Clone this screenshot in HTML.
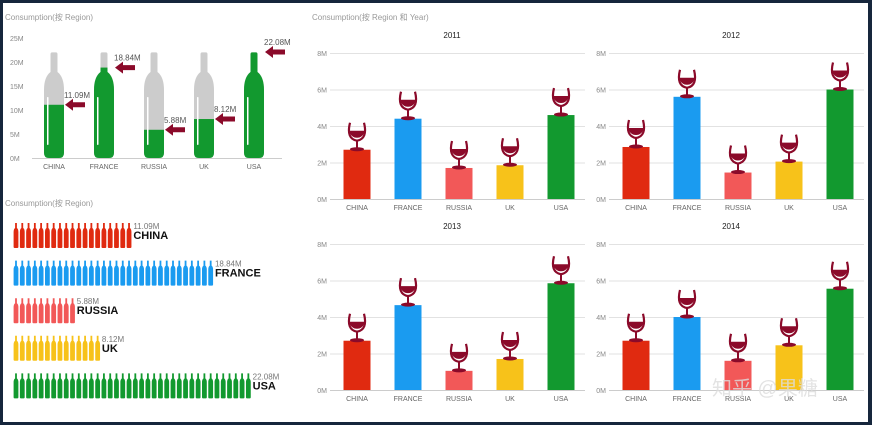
<!DOCTYPE html>
<html><head><meta charset="utf-8"><style>
html,body{margin:0;padding:0;background:#fff}
svg{display:block;font-family:"Liberation Sans","Noto Sans CJK SC",sans-serif}
</style></head><body>
<svg id="c" width="872" height="425" viewBox="0 0 872 425">
<rect x="0" y="0" width="872" height="425" fill="#16263c"/>
<rect x="3" y="3" width="865" height="419" fill="#ffffff"/>
<text x="5" y="20" font-size="8" fill="#999">Consumption(按 Region)</text>
<text x="5" y="206" font-size="8" fill="#999">Consumption(按 Region)</text>
<text x="312" y="20" font-size="8" fill="#999">Consumption(按 Region 和 Year)</text>
<g id="g"></g>
<text x="712" y="395" font-size="20" fill="#ddd" opacity="0.8">知乎 @果糖</text>
</svg>
<script>
const regions=["CHINA","FRANCE","RUSSIA","UK","USA"];
const totals=[11.09,18.84,5.88,8.12,22.08];
const totalLabels=["11.09M","18.84M","5.88M","8.12M","22.08M"];
const colors=["#e02a10","#1a9bf0","#f25858","#f7c21a","#12992f"];
const years=["2011","2012","2013","2014"];
const v2011=[2.7,4.4,1.7,1.85,4.6];
const v2012=[2.85,5.6,1.45,2.05,6.0];
const v2013=[2.7,4.65,1.05,1.7,5.85];
const v2014=[2.7,4.0,1.6,2.45,5.55];
const yearVals=[v2011,v2012,v2013,v2014];
const topTicks=[0,5,10,15,20,25];
const smallTicks=[0,2,4,6,8];
const perBottle=0.58;

const NS="http://www.w3.org/2000/svg";
const g=document.getElementById('g');
function mk(t,a,p){const e=document.createElementNS(NS,t);for(const k in a)e.setAttribute(k,a[k]);(p||g).appendChild(e);return e;}

// top-left bottle chart
const tY=v=>158-v*4.8, tX=i=>54+i*50;
topTicks.forEach(t=>{const e=mk('text',{x:10,y:tY(t)+3,'font-size':7,fill:'#888'});e.textContent=t+'M';

});
mk('line',{x1:32,x2:282,y1:158.5,y2:158.5,stroke:'#ccc'});
const defs=mk('defs',{});
regions.forEach((r,i)=>{
 const cx=tX(i),top=tY(22),sh=90,nk=72,b=158;
 const d=`M${cx-10},${b-5} Q${cx-10},${b} ${cx-5},${b} L${cx+5},${b} Q${cx+10},${b} ${cx+10},${b-5} L${cx+10},${sh} Q${cx+10},${nk+5} ${cx+3.5},${nk} L${cx+3.5},${top+2} Q${cx+3.5},${top} ${cx+2},${top} L${cx-2},${top} Q${cx-3.5},${top} ${cx-3.5},${top+2} L${cx-3.5},${nk} Q${cx-10},${nk+5} ${cx-10},${sh} Z`;
 const cp=mk('clipPath',{id:'cp'+i},defs);mk('path',{d},cp);
 const bg=mk('path',{d,fill:'#cccccc'});
 
 
 const yv=tY(totals[i]);
 const f=mk('rect',{x:cx-11,y:yv,width:22,height:b-yv,fill:'#12992f','clip-path':`url(#cp${i})`});
 
 
 mk('rect',{x:cx-7,y:97,width:1.5,height:48,fill:'#fff',rx:0.7});
 const ax=cx+11;
 const ar=mk('path',{d:`M${ax},${yv} L${ax+8},${yv-6} L${ax+8},${yv-2.5} L${ax+20},${yv-2.5} L${ax+20},${yv+2.5} L${ax+8},${yv+2.5} L${ax+8},${yv+6} Z`,fill:'#8b0a2a'});
 
 
 const lt=mk('text',{x:ax-1,y:yv-7,'font-size':8,fill:'#555'});lt.textContent=totalLabels[i];
 
 
 const xl=mk('text',{x:cx,y:169,'font-size':7,fill:'#666','text-anchor':'middle'});xl.textContent=r;
 
 
});

// bottle rows
regions.forEach((r,i)=>{
 const y0=222+i*37.6,n=Math.round(totals[i]/perBottle);
 for(let k=0;k<n;k++){const x=13+k*6.28+3;
  const bt=mk('path',{d:`M${x-2.4},${y0+25} Q${x-2.4},${y0+26} ${x-1.4},${y0+26} L${x+1.4},${y0+26} Q${x+2.4},${y0+26} ${x+2.4},${y0+25} L${x+2.4},${y0+10} Q${x+2.4},${y0+7} ${x+0.9},${y0+6} L${x+0.9},${y0+1} L${x-0.9},${y0+1} L${x-0.9},${y0+6} Q${x-2.4},${y0+7} ${x-2.4},${y0+10} Z`,fill:colors[i]});
  
  }
 const ex=13+n*6.28+1;
 const v=mk('text',{x:ex,y:y0+7,'font-size':8,fill:'#777'});v.textContent=totalLabels[i];
 
 
 const nm=mk('text',{x:ex,y:y0+17,'font-size':11,'font-weight':'bold',fill:'#111'});nm.textContent=r;
 
 
});

// small multiples
const panels=[[330,53,199],[609,53,199],[330,244,390],[609,244,390]];
const glass=(cx,y)=>{
 mk('ellipse',{cx,cy:y-1.5,rx:7,ry:2,fill:'#8b0a2a'});
 mk('rect',{x:cx-1,y:y-10,width:2,height:9,fill:'#8b0a2a'});
 mk('path',{d:`M${cx-7},${y-28} Q${cx-11},${y-12} ${cx},${y-10} Q${cx+11},${y-12} ${cx+7},${y-28}`,fill:'none',stroke:'#8b0a2a','stroke-width':2.2});
 mk('path',{d:`M${cx-8},${y-20} L${cx+8},${y-20} Q${cx+6},${y-13} ${cx},${y-13} Q${cx-6},${y-13} ${cx-8},${y-20} Z`,fill:'#8b0a2a'});
};
years.forEach((yr,p)=>{
 const [x0,yt,yb]=panels[p];const sy=v=>yb-(yb-yt)*v/8, sx=i=>x0+27+i*51;
 const tt=mk('text',{x:x0+122,y:yt-15,'font-size':8,fill:'#222','text-anchor':'middle'});tt.textContent=yr;
 
 
 smallTicks.forEach(t=>{mk('line',{x1:x0,x2:x0+255,y1:sy(t)+0.5,y2:sy(t)+0.5,stroke:t?'#e2e2e2':'#ccc'});
  const l=mk('text',{x:x0-3,y:sy(t)+3,'font-size':7,fill:'#888','text-anchor':'end'});l.textContent=t+'M';
  
  });
 yearVals[p].forEach((v,i)=>{const cx=sx(i),y=sy(v);
  const b=mk('rect',{x:cx-13.5,y,width:27,height:yb-y,fill:colors[i]});
  
  
  glass(cx,y+1);
  const xl=mk('text',{x:cx,y:yb+11,'font-size':7,fill:'#666','text-anchor':'middle'});xl.textContent=regions[i];
  
  });
});
</script>
</body></html>
